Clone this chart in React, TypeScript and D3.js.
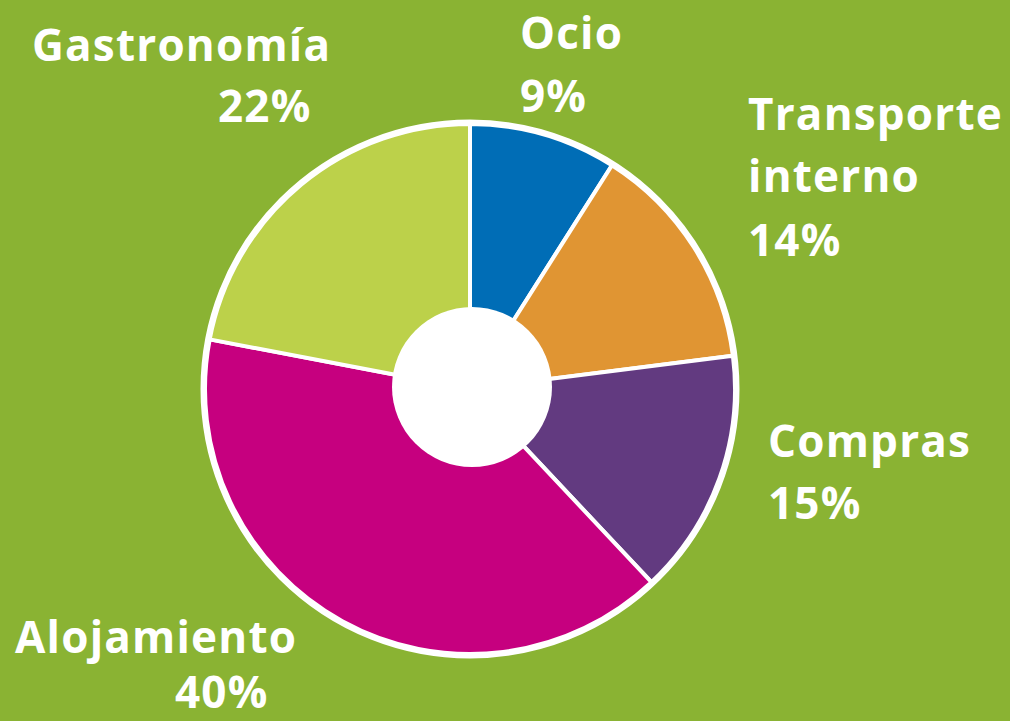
import React, { useEffect, useRef } from 'react';
import * as d3 from 'd3';

const categories = ['Ocio', 'Transporte interno', 'Compras', 'Alojamiento', 'Gastronomía'];
const shares = [9, 14, 15, 40, 22];
const sliceColors = ['#006db6', '#e09533', '#623a80', '#c6007f', '#bcd14a'];
// label lines as drawn in the picture
const labelLines = [['Ocio'], ['Transporte', 'interno'], ['Compras'], ['Alojamiento'], ['Gastronomía']];
const percentLabels = ['9%', '14%', '15%', '40%', '22%'];

const WIDTH = 1010;
const HEIGHT = 721;
const BG = '#8ab333';

// where each label block starts (x, first baseline) and where its percent sits
const labelAnchors = [
    { x: 520, y: 49, px: 520, py: 112 },
    { x: 748, y: 130, px: 748, py: 256 },
    { x: 768, y: 457, px: 768, py: 519 },
    { x: 15, y: 653, px: 175, py: 708 },
    { x: 32, y: 61, px: 218, py: 122 },
];

const App = () => {
    const svgRef = useRef(null);

    useEffect(() => {
        document.body.style.margin = '0';
        const svg = d3.select(svgRef.current);
        svg.selectAll('*').remove();

        svg.append('rect').attr('width', WIDTH).attr('height', HEIGHT).attr('fill', BG);

        const cx = 470;
        const cy = 389;
        const radius = 265;

        const pie = d3
            .pie()
            .value((d) => d)
            .sort(null)
            .startAngle(0)
            .endAngle(2 * Math.PI);
        const arcs = pie(shares);

        const arc = d3.arc().innerRadius(0).outerRadius(radius);

        const g = svg.append('g').attr('transform', `translate(${cx}, ${cy})`);

        // outer white ring
        g.append('circle').attr('r', radius + 2).attr('fill', 'none').attr('stroke', 'white').attr('stroke-width', 5);

        g.selectAll('path.slice')
            .data(arcs)
            .enter()
            .append('path')
            .attr('class', 'slice')
            .attr('d', arc)
            .attr('fill', (d, i) => sliceColors[i])
            .attr('stroke', 'white')
            .attr('stroke-width', 4)
            .attr('stroke-linejoin', 'round');

        // donut hole
        g.append('circle').attr('cx', 2).attr('cy', -2).attr('r', 80).attr('fill', 'white');

        const font = "'Open Sans', Lato, sans-serif";

        categories.forEach((cat, i) => {
            const a = labelAnchors[i];
            const lines = labelLines[i];
            lines.forEach((line, j) => {
                svg.append('text')
                    .attr('x', a.x)
                    .attr('y', a.y + j * 62)
                    .attr('fill', 'white')
                    .style('font-family', font)
                    .style('font-weight', 700)
                    .style('font-size', '44px')
                    .style('letter-spacing', '1.2px')
                    .text(line);
            });
            svg.append('text')
                .attr('x', a.px)
                .attr('y', a.py)
                .attr('fill', 'white')
                .style('font-family', font)
                .style('font-weight', 700)
                .style('font-size', '44px')
                .style('letter-spacing', '1.2px')
                .text(percentLabels[i]);
        });
    }, []);

    return (
        <svg
            ref={svgRef}
            width={WIDTH}
            height={HEIGHT}
            style={{ position: 'absolute', left: 0, top: 0, display: 'block' }}
        />
    );
};

export default App;
